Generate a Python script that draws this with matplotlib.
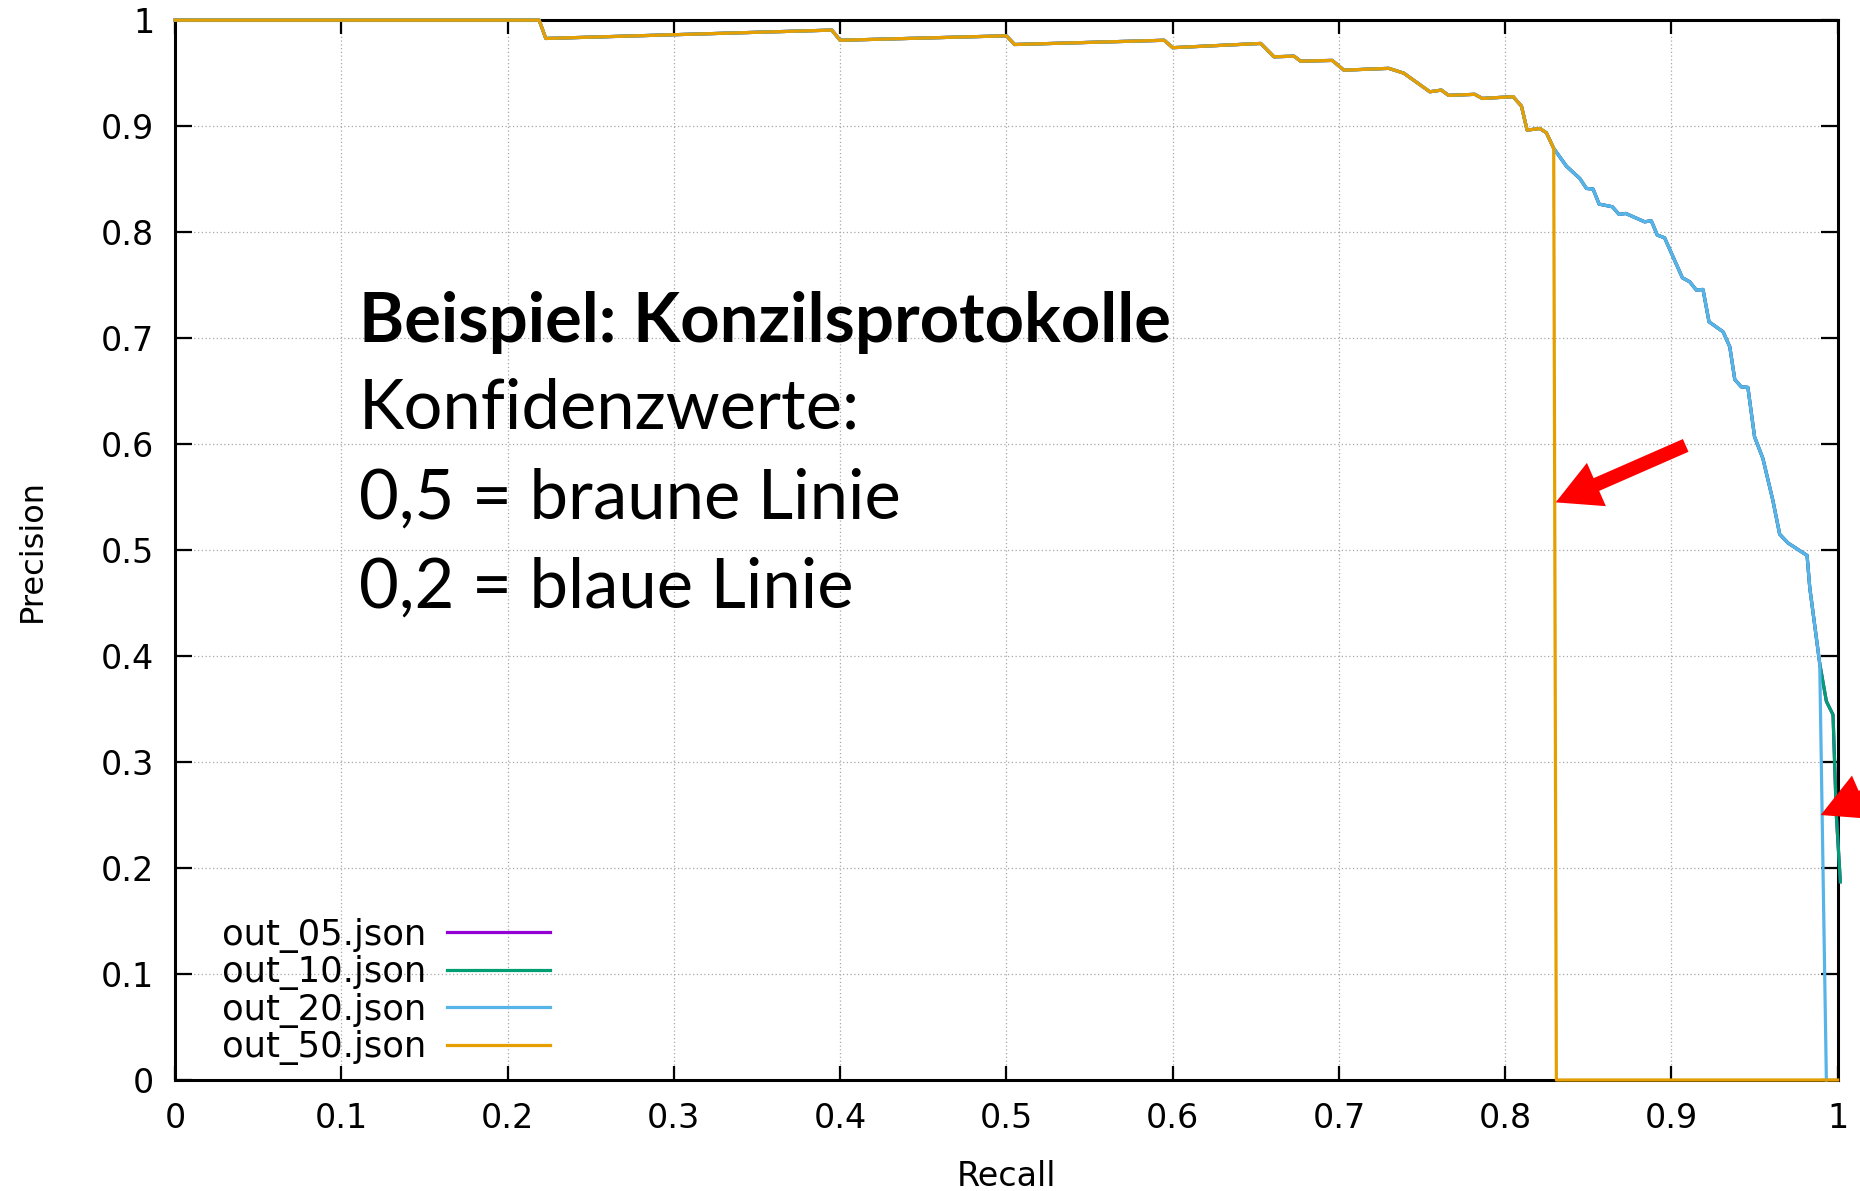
import matplotlib.pyplot as plt

# Punkte, die alle vier Kurven gemeinsam haben (Recall, Precision)
recall_common = [0.0, 0.219, 0.223, 0.395, 0.400, 0.500, 0.505, 0.595, 0.600, 0.653,
                 0.661, 0.673, 0.677, 0.696, 0.703, 0.730, 0.739, 0.7547, 0.7616, 0.766,
                 0.7817, 0.7863, 0.8048, 0.8098, 0.8132, 0.8208, 0.8248, 0.8292]
prec_common = [1.0, 1.0, 0.9827, 0.9906, 0.981, 0.9852, 0.977, 0.981, 0.974, 0.978,
               0.9654, 0.966, 0.9613, 0.962, 0.9528, 0.9545, 0.950, 0.9324, 0.934, 0.929,
               0.930, 0.9261, 0.9278, 0.9189, 0.8962, 0.8978, 0.8937, 0.879]

# Weiterer Verlauf fuer Konfidenz <= 0,2
recall_low = [0.8368, 0.8449, 0.8489, 0.8529, 0.8565, 0.8645, 0.8685, 0.8725, 0.8839, 0.8879,
              0.8915, 0.8959, 0.9066, 0.911, 0.915, 0.919, 0.9226, 0.9311, 0.9351, 0.9381,
              0.942, 0.946, 0.950, 0.955, 0.961, 0.9651, 0.9701, 0.9816, 0.9832, 0.9892]
prec_low = [0.8623, 0.8506, 0.8412, 0.8406, 0.8264, 0.8239, 0.8167, 0.8176, 0.8097, 0.8107,
            0.7972, 0.7946, 0.7569, 0.7531, 0.7453, 0.7459, 0.7154, 0.7059, 0.6918, 0.661,
            0.654, 0.6535, 0.6069, 0.5865, 0.547, 0.515, 0.5067, 0.4949, 0.4646, 0.393]

# Enden der einzelnen Kurven
recall_end_10 = [0.9932, 0.9972, 0.9992, 1.0016]
prec_end_10 = [0.3573, 0.3446, 0.2498, 0.187]
recall_end_20 = [0.9932]
prec_end_20 = [0.0]
recall_end_50 = [0.8308, 1.0]
prec_end_50 = [0.0, 0.0]

files = ['out_05.json', 'out_10.json', 'out_20.json', 'out_50.json']
colors = ['#9400d3', '#009e73', '#56b4e9', '#e69f00']

recall = [
    recall_common + recall_low + recall_end_10,   # out_05 liegt unter out_10
    recall_common + recall_low + recall_end_10,
    recall_common + recall_low + recall_end_20,
    recall_common + recall_end_50,
]
precision = [
    prec_common + prec_low + prec_end_10,
    prec_common + prec_low + prec_end_10,
    prec_common + prec_low + prec_end_20,
    prec_common + prec_end_50,
]

ticks = [0, 0.1, 0.2, 0.3, 0.4, 0.5, 0.6, 0.7, 0.8, 0.9, 1]
tick_labels = ['0', '0.1', '0.2', '0.3', '0.4', '0.5', '0.6', '0.7', '0.8', '0.9', '1']

fig = plt.figure(figsize=(18.6, 11.91), dpi=100)
ax = fig.add_axes([0.0941, 0.0932, 0.8939, 0.8899])

for i in range(4):
    ax.plot(recall[i], precision[i], color=colors[i], lw=2.3, label=files[i],
            clip_on=False, zorder=3)

ax.set_xlim(0, 1)
ax.set_ylim(0, 1)
ax.set_xticks(ticks)
ax.set_xticklabels(tick_labels)
ax.set_yticks(ticks)
ax.set_yticklabels(tick_labels)
ax.tick_params(axis='both', direction='in', top=True, right=True, width=1.6,
               labelsize=24, color='black')
ax.tick_params(axis='x', length=10, pad=16)
ax.tick_params(axis='y', length=12, pad=15)
for s in ax.spines.values():
    s.set_linewidth(2.2)
ax.grid(True, color='#a8a8a8', linestyle=(0, (1, 2)), linewidth=0.9)

ax.set_xlabel('Recall', fontsize=24, labelpad=18)
ax.set_ylabel('Precision', fontsize=23, labelpad=38)

ax.legend(loc='lower left', bbox_to_anchor=(0.028, 0.014), frameon=False,
          markerfirst=False, handlelength=2.9, handletextpad=0.6, labelspacing=0.07,
          fontsize=25.5, borderpad=0, borderaxespad=0)

# Textfeld der Folie
fig.text(0.193, 0.7128, 'Beispiel: Konzilsprotokolle', fontsize=49.5, fontweight='bold',
         family='Lato', va='baseline')
fig.text(0.193, 0.6398, 'Konfidenzwerte:', fontsize=49.5, family='Lato', va='baseline')
fig.text(0.193, 0.565, '0,5 = braune Linie', fontsize=49.5, family='Lato', va='baseline')
fig.text(0.193, 0.4903, '0,2 = blaue Linie', fontsize=49.5, family='Lato', va='baseline')

# rote Pfeile
arrow = dict(arrowstyle='simple, head_length=3.2, head_width=3.4, tail_width=1.0',
             mutation_scale=10, color='#ff0000', lw=0, shrinkA=0, shrinkB=0)
ax.annotate('', xy=(0.8304, 0.545), xytext=(93.6, 41), textcoords='offset points',
            arrowprops=arrow, annotation_clip=False)
ax.annotate('', xy=(0.9898, 0.25), xytext=(93.6, 41), textcoords='offset points',
            arrowprops=arrow, annotation_clip=False)

plt.savefig('out.png', dpi=100)
